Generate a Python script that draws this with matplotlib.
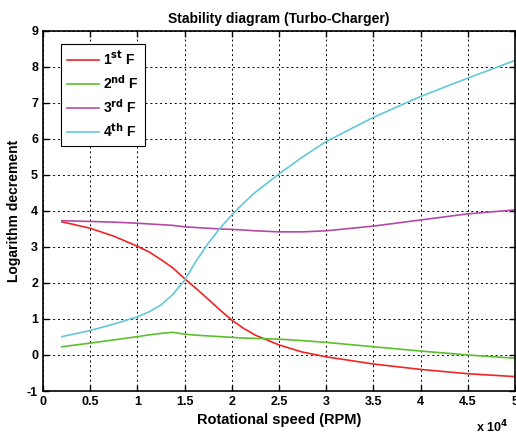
import numpy as np
import matplotlib
matplotlib.use('Agg')
import matplotlib.pyplot as plt

plt.rcParams['font.family'] = ['Liberation Sans', 'DejaVu Sans']
plt.rcParams['font.weight'] = 'bold'
plt.rcParams['mathtext.default'] = 'bf'
plt.rcParams['axes.unicode_minus'] = False

# Rotational speed (RPM)
rpm = [2000, 5000, 7500, 10000, 11250, 12500, 13750, 15000, 16250, 17500,
       18750, 20000, 21250, 22500, 25000, 27500, 30000, 35000, 40000, 45000, 50000]

# Logarithmic decrement of each mode
mode1 = [3.70, 3.52, 3.30, 3.02, 2.86, 2.65, 2.42, 2.12, 1.84, 1.55,
         1.25, 0.97, 0.74, 0.55, 0.28, 0.08, -0.05, -0.25, -0.40, -0.52, -0.60]
mode2 = [0.23, 0.33, 0.42, 0.51, 0.56, 0.60, 0.63, 0.58, 0.55, 0.53,
         0.51, 0.49, 0.47, 0.46, 0.44, 0.40, 0.35, 0.23, 0.11, 0.00, -0.09]
mode3 = [3.73, 3.71, 3.69, 3.66, 3.64, 3.62, 3.60, 3.56, 3.54, 3.52,
         3.50, 3.49, 3.47, 3.45, 3.42, 3.42, 3.45, 3.58, 3.75, 3.92, 4.03]
mode4 = [0.51, 0.68, 0.86, 1.06, 1.20, 1.39, 1.68, 2.08, 2.62, 3.10,
         3.52, 3.89, 4.22, 4.52, 5.03, 5.50, 5.93, 6.60, 7.18, 7.69, 8.18]

labels = ['1$^{st}$ F', '2$^{nd}$ F', '3$^{rd}$ F', '4$^{th}$ F']
colors = ['#f02424', '#5cbf2e', '#b44aa6', '#62c8d8']

x = np.array(rpm) / 1e4

fig = plt.figure(figsize=(5.16, 4.36), dpi=100)
ax = fig.add_axes([0.0833, 0.1032, 0.9147, 0.8258])

for y, lab, c in zip([mode1, mode2, mode3, mode4], labels, colors):
    ax.plot(x, y, color=c, lw=1.2, label=lab)

ax.set_xlim(0, 5)
ax.set_ylim(-1, 9)
ax.set_xticks(np.arange(0, 5.01, 0.5))
ax.set_xticklabels(['0', '0.5', '1', '1.5', '2', '2.5', '3', '3.5', '4', '4.5', '5'])
ax.set_yticks(range(-1, 10))
ax.grid(True, color='black', linestyle=(0, (2, 3)), linewidth=0.7)
ax.tick_params(direction='in', top=True, right=True, labelsize=9, length=4, width=1)
for s in ax.spines.values():
    s.set_linewidth(1.2)

ax.set_title('Stability diagram (Turbo-Charger)', fontsize=10, fontweight='bold', pad=6)
ax.set_xlabel('Rotational speed (RPM)', fontsize=10.5, fontweight='bold', labelpad=4)
ax.set_ylabel('Logarithm decrement', fontsize=10, fontweight='bold', labelpad=4)
ax.text(0.985, -0.10, 'x 10$^4$', transform=ax.transAxes, ha='right', va='center', fontsize=9)

leg = ax.legend(loc='upper left', bbox_to_anchor=(0.038, 0.965), fontsize=10,
                fancybox=False, framealpha=1, edgecolor='black', handlelength=2.3,
                handletextpad=0.3, labelspacing=0.45, borderpad=0.45, borderaxespad=0)
leg.get_frame().set_linewidth(0.8)

fig.savefig('out.png', dpi=100)
